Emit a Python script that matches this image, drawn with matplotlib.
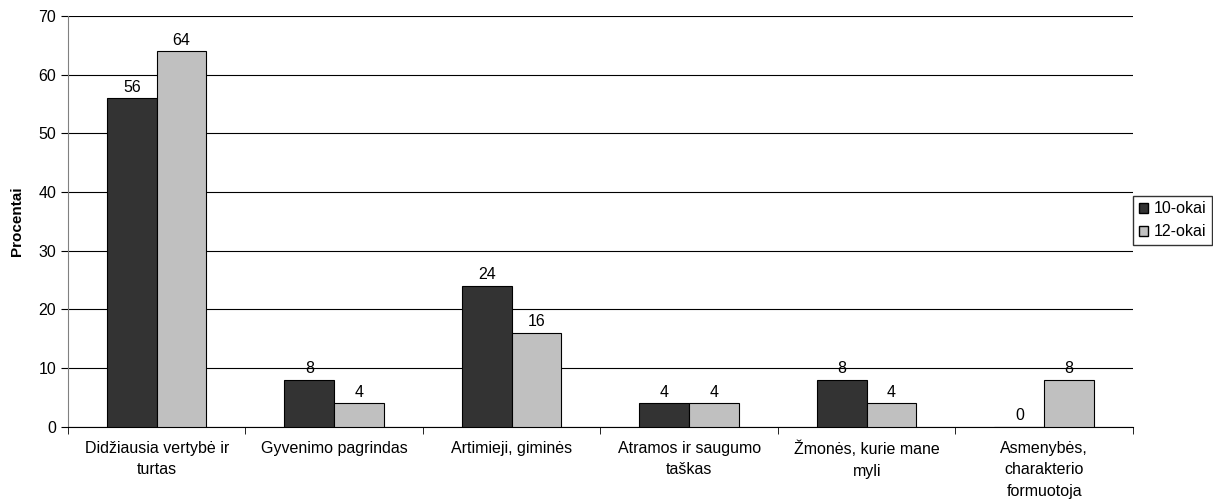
import numpy as np
import matplotlib.pyplot as plt
from matplotlib.patches import Patch

plt.rcParams['font.family'] = ['Liberation Sans', 'DejaVu Sans']
plt.rcParams['font.size'] = 11.5

categories = ['Didžiausia vertybė ir\nturtas', 'Gyvenimo pagrindas', 'Artimieji, giminės',
              'Atramos ir saugumo\ntaškas', 'Žmonės, kurie mane\nmyli',
              'Asmenybės,\ncharakterio\nformuotoja']
vals_10 = [56, 8, 24, 4, 8, 0]
vals_12 = [64, 4, 16, 4, 4, 8]
series_names = ['10-okai', '12-okai']
colors = ['#333333', '#c0c0c0']

fig = plt.figure(figsize=(12.13, 5.01), dpi=100)
ax = fig.add_axes([0.056, 0.148, 0.878, 0.820])

x = np.arange(len(categories))
w = 0.28
b1 = ax.bar(x - w / 2, vals_10, w, color=colors[0], edgecolor='black', linewidth=0.8, zorder=3)
b2 = ax.bar(x + w / 2, vals_12, w, color=colors[1], edgecolor='black', linewidth=0.8, zorder=3)

for bars, vals in [(b1, vals_10), (b2, vals_12)]:
    for r, v in zip(bars, vals):
        ax.text(r.get_x() + r.get_width() / 2, v + 0.6, str(v), ha='center', va='bottom')

ax.set_xlim(-0.5, len(categories) - 0.5)
ax.set_ylim(0, 70)
ax.set_yticks(range(0, 71, 10))
ax.yaxis.grid(True, color='black', linewidth=0.8, zorder=0)
ax.set_axisbelow(True)

ax.set_xticks(x)
ax.set_xticklabels(categories, linespacing=1.55)
ax.tick_params(axis='x', length=0, pad=10)
ax.set_xticks(np.arange(-0.5, len(categories)), minor=True)
ax.tick_params(axis='x', which='minor', length=5, direction='out')
ax.tick_params(axis='y', length=5, direction='out', colors='black')

for s in ['top', 'right']:
    ax.spines[s].set_visible(False)
ax.spines['left'].set_color('#808080')
ax.spines['bottom'].set_color('black')

ax.set_ylabel('Procentai', fontweight='bold', fontsize=11, labelpad=10)

handles = [Patch(facecolor=c, edgecolor='black', label=n) for c, n in zip(colors, series_names)]
fig.legend(handles=handles, loc='center left', bbox_to_anchor=(0.933, 0.56),
           frameon=True, fancybox=False, edgecolor='black', handlelength=0.6,
           handleheight=0.6, handletextpad=0.3, borderpad=0.35, labelspacing=0.5,
           borderaxespad=0.1)

fig.savefig('out.png', dpi=100)
